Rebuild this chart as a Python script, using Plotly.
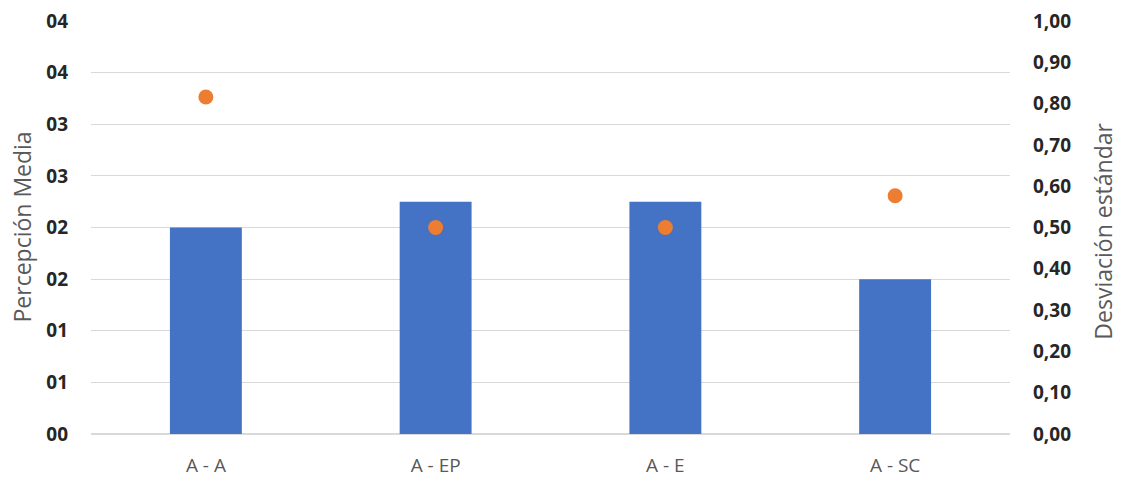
import plotly.graph_objects as go

categories = ["A - A", "A - EP", "A - E", "A - SC"]
mean_perception = [2.0, 2.25, 2.25, 1.5]
std_dev = [0.816, 0.5, 0.5, 0.577]

left_tickvals = [0, 0.5, 1.0, 1.5, 2.0, 2.5, 3.0, 3.5, 4.0]
left_ticktext = ["00", "01", "01", "02", "02", "03", "03", "04", "04"]
right_tickvals = [0, 0.1, 0.2, 0.3, 0.4, 0.5, 0.6, 0.7, 0.8, 0.9, 1.0]

W, H = 1122, 479
L, R, T, B = 91, 112, 21, 45
pw = W - L - R
FONT = "Open Sans, Liberation Sans, sans-serif"

fig = go.Figure()
fig.add_trace(go.Bar(x=categories, y=mean_perception, marker=dict(color="#4472C4", line=dict(width=0)),
                     name="Percepción Media", yaxis="y"))
fig.add_trace(go.Scatter(x=categories, y=std_dev, mode="markers", name="Desviación estándar",
                         marker=dict(color="#ED7D31", size=15), yaxis="y2"))

tickfont = dict(family=FONT, size=19, color="#262626", weight="bold")
fig.update_layout(
    width=W, height=H,
    margin=dict(l=L, r=R, t=T, b=B),
    paper_bgcolor="white", plot_bgcolor="white",
    showlegend=False,
    separators=",.",
    bargap=0.687,
    xaxis=dict(showgrid=False, showline=False, ticks="", zeroline=False, automargin=False,
               tickfont=dict(family=FONT, size=19, color="#595959"),
               ticklabelstandoff=18),
    yaxis=dict(range=[0, 4], tickvals=left_tickvals, ticktext=left_ticktext, automargin=False,
               showgrid=True, gridcolor="#D9D9D9", gridwidth=1, zeroline=True, zerolinecolor="#D9D9D9",
               showline=False, ticks="", tickfont=tickfont, ticklabelstandoff=22),
    yaxis2=dict(range=[0, 1.0], tickvals=right_tickvals, tickformat=".2f", overlaying="y", side="right",
                showgrid=False, zeroline=False, showline=False, ticks="", automargin=False,
                tickfont=tickfont, ticklabelstandoff=22),
    annotations=[
        dict(text="Percepción Media", xref="paper", yref="paper", x=(21 - L) / pw, y=0.5,
             textangle=-90, showarrow=False, xanchor="center", yanchor="middle",
             font=dict(family=FONT, size=23, color="#595959")),
        dict(text="Desviación estándar", xref="paper", yref="paper", x=(1103 - L) / pw, y=0.49,
             textangle=-90, showarrow=False, xanchor="center", yanchor="middle",
             font=dict(family=FONT, size=23, color="#595959")),
    ],
)

fig.write_html("out.html")
